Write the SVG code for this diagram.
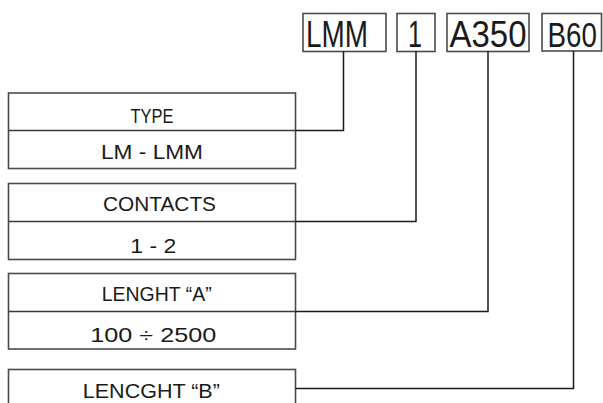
<svg xmlns="http://www.w3.org/2000/svg" width="603" height="403" viewBox="0 0 603 403">
<style>
.box{fill:#fff;stroke:#4a4a4a;stroke-width:1.6}
.div{stroke:#3a3a3a;stroke-width:1.4}
.con{fill:none;stroke:#1a1a1a;stroke-width:1.5}
.t{font-family:"Liberation Sans",Arial,sans-serif;font-size:21px;fill:#1a1a1a;text-anchor:middle}
.big{font-family:"Liberation Sans",Arial,sans-serif;font-size:36px;fill:#1a1a1a}
</style>
<rect width="603" height="403" fill="#fff"/>
<g id="code-lmm"><rect class="box" x="303" y="13.5" width="83" height="38"/><text class="big" x="306" y="46.7" textLength="62" lengthAdjust="spacingAndGlyphs">LMM</text></g>
<g id="code-1"><rect class="box" x="397" y="13.5" width="38" height="38"/><text class="big" x="408" y="46.7" textLength="14" lengthAdjust="spacingAndGlyphs">1</text></g>
<g id="code-a350"><rect class="box" x="447" y="13.5" width="82" height="38"/><text class="big" x="449.5" y="46.7" textLength="77" lengthAdjust="spacingAndGlyphs">A350</text></g>
<g id="code-b60"><rect class="box" x="542" y="13.5" width="59.5" height="37.5"/><text class="big" transform="translate(547.5,46.7) scale(0.77,1)">B60</text></g>
<g id="type"><rect class="box" x="8.5" y="93" width="287" height="75.5"/><line class="div" x1="8.5" y1="130.5" x2="295.5" y2="130.5"/><text class="t" x="152" y="123.3" textLength="43" lengthAdjust="spacingAndGlyphs">TYPE</text><text class="t" x="152" y="159.3" textLength="102" lengthAdjust="spacingAndGlyphs">LM - LMM</text></g>
<g id="contacts"><rect class="box" x="8.5" y="183.5" width="287" height="76"/><line class="div" x1="8.5" y1="221.5" x2="295.5" y2="221.5"/><text class="t" x="159.5" y="211" textLength="113" lengthAdjust="spacingAndGlyphs">CONTACTS</text><text class="t" x="153.3" y="253.3" textLength="46" lengthAdjust="spacingAndGlyphs">1 - 2</text></g>
<g id="lenght-a"><rect class="box" x="8.5" y="273.5" width="287" height="75.5"/><line class="div" x1="8.5" y1="311.5" x2="295.5" y2="311.5"/><text class="t" x="156.7" y="300.7" textLength="110" lengthAdjust="spacingAndGlyphs">LENGHT “A”</text><text class="t" x="153.3" y="341.7" textLength="126" lengthAdjust="spacingAndGlyphs">100 ÷ 2500</text></g>
<g id="lenght-b"><rect class="box" x="8.5" y="369.5" width="287" height="40"/><text class="t" x="151.3" y="398.3" textLength="137" lengthAdjust="spacingAndGlyphs">LENCGHT “B”</text></g>
<g id="connectors">
<polyline class="con" points="343.5,51.5 343.5,130.5 295.5,130.5"/>
<polyline class="con" points="416,51.5 416,221.5 295.5,221.5"/>
<polyline class="con" points="488,51.5 488,311.5 295.5,311.5"/>
<polyline class="con" points="573.5,51 573.5,388.5 295.5,388.5"/>
</g>
</svg>
